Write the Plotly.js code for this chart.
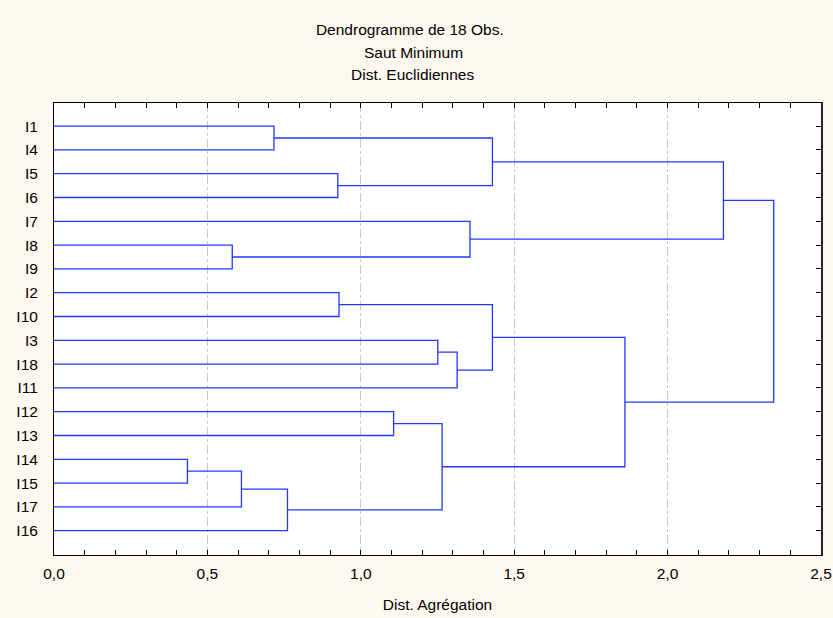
<!DOCTYPE html>
<html>
<head>
<meta charset="utf-8">
<script src="https://cdn.plot.ly/plotly-3.0.1.min.js"></script>
<style>html,body{margin:0;padding:0;background:#fdf9f0;}</style>
</head>
<body>
<div id="chart" style="width:833px;height:618px;"></div>
<script>
// Leaf order (top to bottom)
const leaves = ["I1","I4","I5","I6","I7","I8","I9","I2","I10","I3","I18","I11","I12","I13","I14","I15","I17","I16"];
// Merges: ids 0..17 are leaves, merge k gets id 18+k
const mergeLeft   = [14, 5, 18, 0, 20, 2, 7, 12, 9, 25, 26, 4, 21, 24, 31, 30, 33];
const mergeRight  = [15, 6, 16, 1, 17, 3, 8, 13, 10, 22, 11, 19, 23, 28, 27, 29, 32];
const mergeHeight = [0.435, 0.581, 0.611, 0.717, 0.761, 0.925, 0.929, 1.107, 1.251, 1.265, 1.314, 1.356, 1.429, 1.429, 1.861, 2.182, 2.346];
const xTickVals = [0, 0.5, 1.0, 1.5, 2.0, 2.5];

const nodeX = [], nodeY = [];
leaves.forEach((l, i) => { nodeX.push(0); nodeY.push(i); });
const xs = [], ys = [];
for (let k = 0; k < mergeHeight.length; k++) {
  const a = mergeLeft[k], b = mergeRight[k], h = mergeHeight[k];
  xs.push(nodeX[a], h, h, nodeX[b], null);
  ys.push(nodeY[a], nodeY[a], nodeY[b], nodeY[b], null);
  nodeX.push(h);
  nodeY.push((nodeY[a] + nodeY[b]) / 2);
}
const idx = leaves.map((l, i) => i);

const font = {family: "'Liberation Sans', Arial, sans-serif", size: 15.5, color: "#000"};
const tfont = {family: "'Liberation Sans', Arial, sans-serif", size: 15.5, color: "#000"};
const yr = [18.02, -0.97];

const traces = [
  {x: xs, y: ys, type: "scatter", mode: "lines", line: {color: "#2238ff", width: 1.3}, hoverinfo: "skip", showlegend: false},
  {x: [null], y: [null], yaxis: "y2", type: "scatter", mode: "lines", showlegend: false, hoverinfo: "skip"}
];

const layout = {
  width: 833, height: 618,
  paper_bgcolor: "#fdf9f0", plot_bgcolor: "#ffffff",
  separators: ", ",
  font: font,
  margin: {l: 54, r: 12, t: 103, b: 63, pad: 0},
  showlegend: false,
  title: {text: "Dendrogramme de 18 Obs.", x: 0.492, xref: "container", xanchor: "center", y: 1 - 30/618, yanchor: "middle", yref: "container", font: font},
  annotations: [
    {text: "Saut Minimum", xref: "paper", yref: "paper", x: 0.469, y: (555 - 52) / 452, xanchor: "center", yanchor: "middle", showarrow: false, font: font},
    {text: "Dist. Euclidiennes", xref: "paper", yref: "paper", x: 0.467, y: (555 - 75) / 452, xanchor: "center", yanchor: "middle", showarrow: false, font: font}
  ],
  xaxis: {
    range: [0, 2.5], tickvals: xTickVals, tickformat: ".1f",
    ticks: "inside", ticklen: 5, tickcolor: "#000", tickwidth: 1,
    minor: {dtick: 0.1, ticks: "inside", ticklen: 3, tickcolor: "#000", showgrid: false},
    showline: true, linecolor: "#000", linewidth: 1, mirror: "allticks",
    showgrid: true, gridcolor: "#c8c8c8", griddash: "dashdot", gridwidth: 1,
    zeroline: false, ticklabelstandoff: 4,
    title: {text: "Dist. Agrégation", font: font, standoff: 18},
    tickfont: tfont, fixedrange: true
  },
  yaxis: {
    range: yr, tickvals: idx, ticktext: leaves, ticks: "",
    showline: true, linecolor: "#000", linewidth: 1,
    showgrid: false, zeroline: false, ticklabelstandoff: 12,
    tickfont: tfont, fixedrange: true
  },
  yaxis2: {
    range: yr, overlaying: "y", side: "right", tickvals: idx, showticklabels: false,
    ticks: "inside", ticklen: 5, tickcolor: "#000",
    showline: true, linecolor: "#222", linewidth: 2,
    showgrid: false, zeroline: false, fixedrange: true
  }
};

Plotly.newPlot("chart", traces, layout, {displayModeBar: false, staticPlot: true});
</script>
</body>
</html>
